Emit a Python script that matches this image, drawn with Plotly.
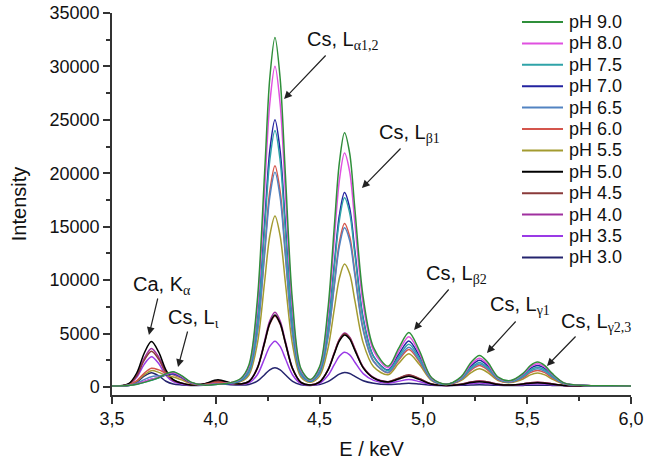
import plotly.graph_objects as go

# ---- data ----
energy = [3.50, 3.58, 3.62, 3.655, 3.69, 3.725, 3.76, 3.795, 3.835, 3.88, 3.94, 4.01, 4.07, 4.12, 4.16,
          4.20, 4.235, 4.26, 4.285, 4.31, 4.335, 4.37, 4.41, 4.455, 4.50, 4.54, 4.57, 4.595, 4.62, 4.645,
          4.67, 4.71, 4.76, 4.83, 4.88, 4.93, 4.98, 5.04, 5.11, 5.18, 5.23, 5.27, 5.31, 5.36, 5.42, 5.48,
          5.515, 5.55, 5.585, 5.62, 5.68, 5.78, 5.90, 6.00]

ph_9_0 = [100,140,260,430,640,880,1230,1420,1060,450, 180,260,400,790,2080,8110,20010,28890,32710,28870,
          19930,7870,1730,700,1910,7260,14780,20950,23800,21870, 16630,8380,3680,1940,3590,5110,3440,860,260,920,
          2310,2950,2310,920,600,1270,2000,2330,2000,1270, 360,140,120,100]
ph_8_0 = [100,140,290,510,730,910,1180,1330,990,420, 190,280,390,750,1930,7450,18360,26510,30010,26480,
          18290,7230,1600,660,1770,6690,13610,19280,21900,20130, 15320,7730,3410,1800,3310,4710,3180,810,260,860,
          2120,2700,2120,860,570,1190,1870,2180,1870,1190, 350,140,120,100]
ph_7_5 = [100,140,260,430,630,860,1190,1370,1020,430, 180,260,350,640,1580,5990,14710,21210,24010,21190,
          14650,5820,1320,570,1470,5430,11010,15580,17700,16270, 12400,6290,2810,1530,2820,4010,2720,710,250,750,
          1810,2300,1810,750,510,1030,1590,1850,1590,1030, 320,140,120,100]
ph_7_0 = [100,140,290,500,720,880,1110,1230,920,400, 180,270,360,650,1630,6230,15320,22100,25010,22070,
          15250,6050,1370,580,1500,5590,11330,16030,18210,16740, 12740,6450,2870,1600,3020,4310,2910,750,250,800,
          1970,2500,1970,800,540,1100,1720,2000,1720,1100, 330,140,120,100]
ph_6_5 = [100,160,360,690,960,1040,1140,1200,880,390, 190,300,350,570,1350,5040,12330,17770,20100,17750,
          12280,4900,1140,510,1260,4600,9290,13130,14900,13700, 10440,5300,2380,1370,2610,3710,2520,670,240,710,
          1700,2150,1700,710,480,950,1460,1700,1460,950, 300,140,120,100]
ph_6_0 = [100,200,600,1280,1750,1600,1300,1150,810,360, 220,410,400,580,1390,5190,12700,18300,20710,18280,
          12640,5040,1170,520,1290,4720,9530,13480,15300,14070, 10720,5440,2430,1340,2480,3510,2390,650,240,670,
          1580,2000,1580,670,450,870,1340,1550,1340,870, 290,140,120,100]
ph_5_5 = [100,190,540,1130,1530,1370,1090,940,670,320, 210,380,360,500,1120,4050,9830,14150,16000,14140,
          9790,3930,940,440,1020,3580,7190,10140,11510,10590, 8080,4130,1890,1140,2190,3110,2120,590,240,590,
          1350,1700,1350,590,410,750,1130,1300,1130,750, 270,140,120,100]
ph_5_0 = [80,310,1340,3160,4250,3260,1580,690,360,190, 280,670,400,290,520,1750,4160,5970,6740,5960,
          4150,1700,430,190,460,1550,3060,4290,4860,4480, 3430,1790,840,470,740,1000,710,260,150,230,
          420,500,420,230,180,270,360,400,360,270, 150,110,100,90]
ph_4_5 = [80,260,1080,2490,3350,2600,1310,630,360,190, 250,560,350,280,520,1720,4100,5880,6640,5870,
          4090,1670,430,190,470,1590,3140,4410,4990,4590, 3520,1820,850,490,830,1140,800,280,150,250,
          460,550,460,250,180,290,400,450,400,290, 150,110,100,90]
ph_4_0 = [80,270,1150,2680,3610,2790,1400,670,370,200, 260,590,360,290,540,1810,4320,6190,6990,6180,
          4300,1760,440,190,480,1610,3170,4460,5050,4660, 3580,1870,890,500,800,1090,770,270,150,250,
          460,550,460,250,180,290,400,450,400,290, 150,110,100,90]
ph_3_5 = [80,240,930,2120,2840,2190,1080,500,280,170, 230,490,310,240,380,1150,2670,3800,4290,3800,
          2660,1120,320,170,350,1070,2060,2880,3250,3010, 2320,1250,620,360,530,700,510,220,150,200,
          320,380,320,200,160,220,270,300,270,220, 140,110,100,90]
ph_3_0 = [80,160,480,1010,1330,1040,540,280,190,140, 170,300,210,180,240,540,1150,1610,1800,1600,
          1150,530,210,150,220,500,880,1200,1350,1260, 1000,590,350,230,290,350,280,170,140,160,
          190,210,190,160,140,150,160,160,160,150, 120,110,100,90]

series_names = ["pH 9.0", "pH 8.0", "pH 7.5", "pH 7.0", "pH 6.5", "pH 6.0",
                "pH 5.5", "pH 5.0", "pH 4.5", "pH 4.0", "pH 3.5", "pH 3.0"]
series_values = [ph_9_0, ph_8_0, ph_7_5, ph_7_0, ph_6_5, ph_6_0,
                 ph_5_5, ph_5_0, ph_4_5, ph_4_0, ph_3_5, ph_3_0]

x_tick_vals = [3.5, 4.0, 4.5, 5.0, 5.5, 6.0]
x_tick_text = ["3,5", "4,0", "4,5", "5,0", "5,5", "6,0"]
y_tick_vals = [0, 5000, 10000, 15000, 20000, 25000, 30000, 35000]
y_tick_text = ["0", "5000", "10000", "15000", "20000", "25000", "30000", "35000"]

# peak labels: (main text, subscript, label x, label y, arrow tail x, tail y, arrow tip x, tip y)
peak_labels = [
    ("Cs, L", "α1,2", 4.615, 32450, 4.536, 31160, 4.329, 26950),
    ("Cs, L", "β1", 4.935, 23750, 4.897, 22460, 4.704, 18620),
    ("Cs, L", "β2", 5.160, 10550, 5.128, 9264, 4.955, 5334),
    ("Cs, L", "γ1", 5.465, 7650, 5.451, 6270, 5.306, 3182),
    ("Cs, L", "γ2,3", 5.830, 6060, 5.740, 4866, 5.595, 1965),
    ("Ca, K", "α", 3.742, 9520, 3.722, 8422, 3.678, 4866),
    ("Cs, L", "ι", 3.892, 6430, 3.866, 5334, 3.818, 1872),
]

# ---- styles / layout ----
colors = ["#2f8f3a", "#e050e0", "#2fa3a8", "#2323a0", "#5283c2", "#d4554c",
          "#a39b30", "#000000", "#8a3a3a", "#a0309f", "#9a3ae6", "#24246e"]

W, H = 646, 464
PLOT_L, PLOT_R, PLOT_T, PLOT_B = 112, 631, 13, 395   # plot area in window pixels
ML, MT, MR, MB = PLOT_L, PLOT_T, W - PLOT_R, H - PLOT_B
PW, PH = PLOT_R - PLOT_L, PLOT_B - PLOT_T


def px_to_paper(px, py):
    return (px - PLOT_L) / PW, (PLOT_B - py) / PH


fig = go.Figure()
for name, vals, col in reversed(list(zip(series_names, series_values, colors))):
    fig.add_trace(go.Scatter(x=energy, y=vals, name=name, mode="lines", showlegend=False,
                             hoverinfo="skip",
                             line=dict(color=col, width=1.5, shape="spline", smoothing=0.9)))

font_main = "Liberation Sans, Arial, sans-serif"
for main, sub, lx, ly, tx, ty, hx, hy in peak_labels:
    fig.add_annotation(x=lx, y=ly, xref="x", yref="y", showarrow=False,
                       text=main + "<sub><span style='font-family:Liberation Serif'>" + sub + "</span></sub>",
                       font=dict(size=20, color="#111", family=font_main))
    fig.add_annotation(x=hx, y=hy, ax=tx, ay=ty, xref="x", yref="y", axref="x", ayref="y",
                       text="", showarrow=True, arrowhead=2, arrowsize=1.3, arrowwidth=1.2,
                       arrowcolor="#222", standoff=0, startstandoff=0)

# legend drawn as line samples + labels (top right, inside the plot)
for i, (name, col) in enumerate(zip(series_names, colors)):
    cy = 22 + 21.4 * i
    x0, y0 = px_to_paper(522, cy)
    x1, _ = px_to_paper(563, cy)
    xt, _ = px_to_paper(567, cy)
    fig.add_shape(type="line", xref="paper", yref="paper", x0=x0, x1=x1, y0=y0, y1=y0,
                  line=dict(color=col, width=2))
    fig.add_annotation(x=xt, y=y0, xref="paper", yref="paper", xanchor="left", yanchor="middle",
                       text=name, showarrow=False, font=dict(size=18, color="#111", family=font_main))

axis_common = dict(ticks="outside", ticklen=7, tickwidth=1.5, tickcolor="#333",
                   showline=True, linecolor="#333", linewidth=1.5, showgrid=False, zeroline=False,
                   automargin=False, ticklabeloverflow="allow", tickfont=dict(size=18))

fig.update_layout(
    width=W, height=H,
    margin=dict(l=ML, r=MR, t=MT, b=MB),
    paper_bgcolor="white", plot_bgcolor="white",
    font=dict(family=font_main, color="#111"),
    showlegend=False,
    xaxis=dict(range=[3.5, 6.0], tickmode="array", tickvals=x_tick_vals, ticktext=x_tick_text,
               minor=dict(ticks="outside", ticklen=4, tickwidth=1.5, tickcolor="#333",
                          dtick=0.25, tick0=3.5, showgrid=False),
               title=dict(text="E / keV", font=dict(size=20), standoff=14),
               **axis_common),
    yaxis=dict(range=[-750, 35000], tickmode="array", tickvals=y_tick_vals, ticktext=y_tick_text,
               minor=dict(ticks="outside", ticklen=4, tickwidth=1.5, tickcolor="#333",
                          dtick=2500, tick0=0, showgrid=False),
               title=dict(text="Intensity", font=dict(size=20), standoff=18),
               **axis_common),
)

# place the figure at the window's top-left corner (no default page margin), no mode bar
fig.write_html("out.html", config={"displayModeBar": False},
               post_script="document.body.style.margin='0px';")
